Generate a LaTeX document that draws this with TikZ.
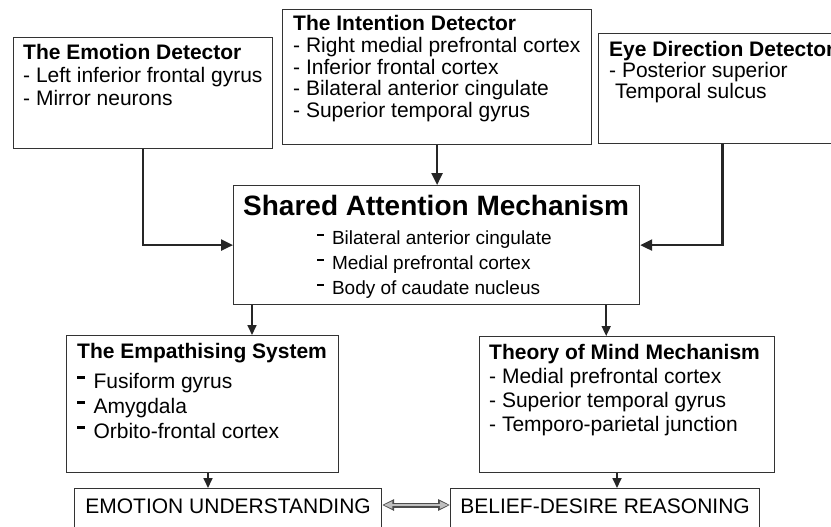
\documentclass[tikz,border=0pt]{standalone}
\usepackage{fontspec}
\setmainfont{Liberation Sans}
\usetikzlibrary{arrows.meta}

\newcommand{\bardash}{\rule[0.45em]{0.38em}{0.11em}\hspace{0.4em}}

\tikzset{
  box/.style={draw=black!80, line width=1.2pt, anchor=north west, inner sep=0pt},
  txt/.style={anchor=north west, inner sep=0pt, align=left, font=\fontsize{21}{22.5}\selectfont},
  arr/.style={draw=black!85, line width=2.4pt, -{Triangle[length=12pt,width=11pt]}},
  arrs/.style={draw=black!85, line width=1.7pt, -{Triangle[length=10pt,width=9pt]}},
  dblout/.style={draw=black!70, line width=5pt, {Triangle[length=12pt,width=11pt]}-{Triangle[length=12pt,width=11pt]}},
  dblin/.style={draw=gray!50, line width=2.4pt, shorten <=1.6pt, shorten >=1.6pt, {Triangle[length=8.5pt,width=7pt]}-{Triangle[length=8.5pt,width=7pt]}}
}

\begin{document}
\begin{tikzpicture}[x=1pt, y=-1pt]
  \useasboundingbox (0,0) rectangle (831,527);
  % Detectors on top
  \node[box, minimum width=259pt, minimum height=111pt] (emo) at (13,37) {};
  \node[txt, font=\fontsize{21}{23}\selectfont] (emotxt) at ([xshift=10pt,yshift=-6.7pt]emo.north west)
    {\textbf{The Emotion Detector}\\- Left inferior frontal gyrus\\- Mirror neurons};
  \node[box, minimum width=309pt, minimum height=135pt] (int) at (282,9) {};
  \node[txt, font=\fontsize{21}{21.8}\selectfont] (inttxt) at ([xshift=11pt,yshift=-6pt]int.north west)
    {\textbf{The Intention Detector}\\- Right medial prefrontal cortex\\- Inferior frontal cortex\\- Bilateral anterior cingulate\\- Superior temporal gyrus};
  \node[box, minimum width=248pt, minimum height=110pt] (eye) at (598,33) {};
  \node[txt, font=\fontsize{21}{21}\selectfont] (eyetxt) at ([xshift=11pt,yshift=-7.7pt]eye.north west)
    {\textbf{Eye Direction Detector}\\- Posterior superior\\\hspace*{5.8pt}Temporal sulcus};
  % Shared attention
  \node[box, minimum width=406pt, minimum height=119pt] (sam) at (233,185) {};
  \node[txt, font=\fontsize{28}{30}\selectfont\bfseries] (samhead) at ([xshift=10pt,yshift=-9.6pt]sam.north west)
    {Shared Attention Mechanism};
  \node[txt, font=\fontsize{19}{25}\selectfont] (samtxt) at ([xshift=84pt,yshift=-46pt]sam.north west)
    {\bardash Bilateral anterior cingulate\\\bardash Medial prefrontal cortex\\\bardash Body of caudate nucleus};
  % Systems
  \node[box, minimum width=272pt, minimum height=137pt] (emp) at (66,335) {};
  \node[txt, font=\fontsize{21}{25}\selectfont] (emptxt) at ([xshift=11pt,yshift=-7.7pt]emp.north west)
    {\textbf{The Empathising System}\\[5pt]\bardash Fusiform gyrus\\\bardash Amygdala\\\bardash Orbito-frontal cortex};
  \node[box, minimum width=295pt, minimum height=136pt] (tom) at (479,336) {};
  \node[txt, font=\fontsize{21}{24}\selectfont] (tomtxt) at ([xshift=10pt,yshift=-7.7pt]tom.north west)
    {\textbf{Theory of Mind Mechanism}\\- Medial prefrontal cortex\\- Superior temporal gyrus\\- Temporo-parietal junction};
  % Outcomes
  \node[box, minimum width=307pt, inner ysep=10pt, text height=15pt, text depth=25pt, font=\fontsize{21}{24}\selectfont] (eu) at (74,488) {EMOTION UNDERSTANDING};
  \node[box, minimum width=309pt, inner ysep=10pt, text height=15pt, text depth=25pt, font=\fontsize{21}{24}\selectfont] (bd) at (450,488) {BELIEF-DESIRE REASONING};
  % Connectors
  \draw[arr] (emo) |- (sam);
  \draw[arr] (int.south) -- (int.south |- sam.north);
  \draw[arr] (eye) |- (sam);
  \draw[arrs] ([xshift=19pt]sam.south west) -- ([xshift=19pt]sam.south west |- emp.north);
  \draw[arrs] ([xshift=-34pt]sam.south east) -- ([xshift=-34pt]sam.south east |- tom.north);
  \draw[arrs] ([xshift=142pt]emp.south west) -- ([xshift=142pt]emp.south west |- eu.north);
  \draw[arrs] ([xshift=138pt]tom.south west) -- ([xshift=138pt]tom.south west |- bd.north);
  % Double arrow between outcomes
  \draw[dblout] ([yshift=-17pt]eu.north east) -- ([yshift=-17pt]bd.north west);
  \draw[dblin] ([yshift=-17pt]eu.north east) -- ([yshift=-17pt]bd.north west);
\end{tikzpicture}
\end{document}
